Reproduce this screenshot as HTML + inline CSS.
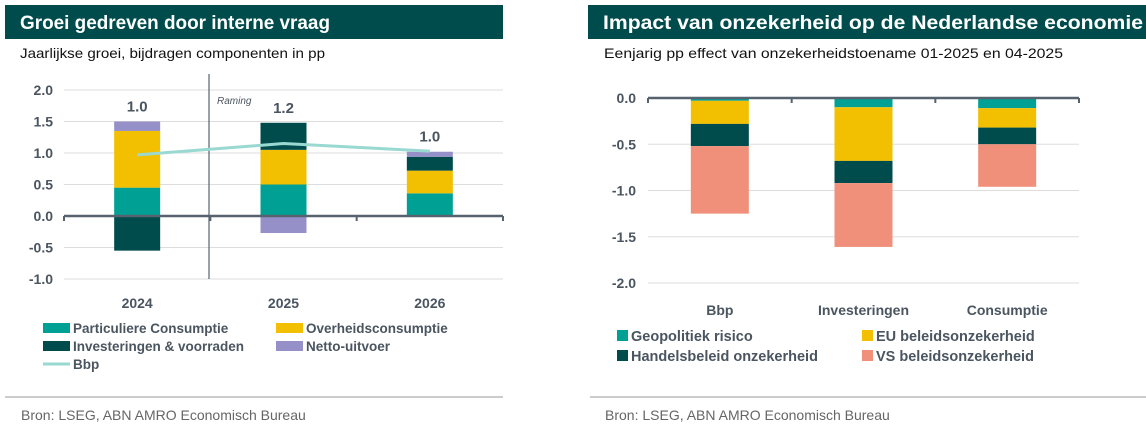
<!DOCTYPE html>
<html><head><meta charset="utf-8"><style>
body{margin:0;background:#fff;width:1146px;height:430px;overflow:hidden}
svg{display:block;font-family:"Liberation Sans",sans-serif}
</style></head><body>
<svg id="s" width="1146" height="430" viewBox="0 0 1146 430">
<rect x="5" y="5" width="498" height="34" fill="#004c4c"/>
<text x="20" y="29" font-size="19" font-weight="bold" fill="#fff" textLength="310" lengthAdjust="spacingAndGlyphs">Groei gedreven door interne vraag</text>
<text x="20" y="58" font-size="14" fill="#111" textLength="305" lengthAdjust="spacingAndGlyphs">Jaarlijkse groei, bijdragen componenten in pp</text>
<rect x="588" y="5" width="558" height="34" fill="#004c4c"/>
<text x="603" y="29" font-size="19" font-weight="bold" fill="#fff" textLength="540" lengthAdjust="spacingAndGlyphs">Impact van onzekerheid op de Nederlandse economie</text>
<text x="604" y="58" font-size="14" fill="#111" textLength="459" lengthAdjust="spacingAndGlyphs">Eenjarig pp effect van onzekerheidstoename 01-2025 en 04-2025</text>
<g id="L"></g><g id="R"></g>
<line x1="5" y1="397" x2="503" y2="397" stroke="#bbb" stroke-width="1.5"/>
<line x1="590" y1="397" x2="1146" y2="397" stroke="#bbb" stroke-width="1.5"/>
<text x="21" y="420" font-size="14" fill="#666">Bron: LSEG, ABN AMRO Economisch Bureau</text>
<text x="605" y="420" font-size="14" fill="#666">Bron: LSEG, ABN AMRO Economisch Bureau</text>
</svg>
<script>
const NS="http://www.w3.org/2000/svg";
// Left chart data
const leftYears=["2024","2025","2026"];
const privCons=[0.45,0.5,0.36];
const govCons=[0.9,0.55,0.36];
const invest=[-0.55,0.43,0.22];
const netExport=[0.15,-0.27,0.08];
const gdpLine=[0.97,1.15,1.03];
const gdpLabels=["1.0","1.2","1.0"];
const leftTicks=[2.0,1.5,1.0,0.5,0.0,-0.5,-1.0];
// Right chart data
const rightCats=["Bbp","Investeringen","Consumptie"];
const geoRisk=[-0.03,-0.1,-0.11];
const euPolicy=[-0.25,-0.58,-0.21];
const tradePolicy=[-0.24,-0.24,-0.18];
const usPolicy=[-0.73,-0.69,-0.46];
const rightTicks=[0.0,-0.5,-1.0,-1.5,-2.0];

function mk(parent,tag,attrs,text){const e=document.createElementNS(NS,tag);for(const k in attrs)e.setAttribute(k,attrs[k]);if(text!=null)e.textContent=text;parent.appendChild(e);return e;}
const C={pc:"#00a094",oc:"#f2c000",inv:"#004c4c",net:"#9590c8",gdp:"#99d9d2",us:"#f0907a"};

// LEFT
const L=document.getElementById("L");
const lx0=64,lx1=503,ly=v=>216-v*63;
const lcw=(lx1-lx0)/leftYears.length, lcx=i=>lx0+lcw*(i+0.5);
leftTicks.forEach(t=>{
  const g=mk(L,"line",{x1:lx0,x2:lx1,y1:ly(t),y2:ly(t),stroke:"#ddd","stroke-width":1});
  
  
  const tx=mk(L,"text",{x:53,y:ly(t)+5,"font-size":14,"font-weight":"bold",fill:"#4a5560","text-anchor":"end"},t.toFixed(1));
  
  
});
const series=[[privCons,C.pc,"particuliere-consumptie"],[govCons,C.oc,"overheidsconsumptie"],[invest,C.inv,"investeringen"],[netExport,C.net,"netto-uitvoer"]];
leftYears.forEach((yr,i)=>{
  let pos=0,neg=0;
  series.forEach(([arr,col,nm])=>{
    const v=arr[i];let a,b;
    if(v>=0){a=pos;b=pos+v;pos=b;}else{a=neg;b=neg+v;neg=b;}
    const r=mk(L,"rect",{x:lcx(i)-23,width:46,y:ly(Math.max(a,b)),height:Math.abs(ly(a)-ly(b)),fill:col});
    
    
  });
  const lab=mk(L,"text",{x:lcx(i),y:ly(pos)-10,"font-size":15,"font-weight":"bold",fill:"#4a5560","text-anchor":"middle"},gdpLabels[i]);
  
  
  const xl=mk(L,"text",{x:lcx(i),y:308,"font-size":14,"font-weight":"bold",fill:"#4a5560","text-anchor":"middle"},yr);
  
  
});
const ax=mk(L,"line",{x1:lx0,x2:lx1,y1:ly(0),y2:ly(0),stroke:"#56636e","stroke-width":2.5});


for(let i=0;i<=3;i++){const tk=mk(L,"line",{x1:lx0+lcw*i,x2:lx0+lcw*i,y1:ly(0),y2:ly(0)+5,stroke:"#56636e","stroke-width":2});
  
  }
const vl=mk(L,"line",{x1:209,x2:209,y1:74,y2:279,stroke:"#56636e","stroke-width":1.2});


const rm=mk(L,"text",{x:217,y:104,"font-size":10,"font-style":"italic",fill:"#4a5560"},"Raming");


const pl=mk(L,"polyline",{points:gdpLine.map((v,i)=>lcx(i)+","+ly(v)).join(" "),fill:"none",stroke:C.gdp,"stroke-width":3});


const lleg=[[43,328,C.pc,"Particuliere Consumptie"],[276,328,C.oc,"Overheidsconsumptie"],[43,346,C.inv,"Investeringen & voorraden"],[276,346,C.net,"Netto-uitvoer"]];
lleg.forEach(([x,y,c,t])=>{
  const g=mk(L,"g",{});
  
  
  mk(g,"rect",{x:x,y:y-5,width:27,height:10,fill:c});
  mk(g,"text",{x:x+30,y:y+5,"font-size":13.5,"font-weight":"bold",fill:"#4a5560"},t);
});
const gl=mk(L,"g",{});


mk(gl,"line",{x1:43,x2:70,y1:364,y2:364,stroke:C.gdp,"stroke-width":3});
mk(gl,"text",{x:73,y:369,"font-size":13.5,"font-weight":"bold",fill:"#4a5560"},"Bbp");

// RIGHT
const R=document.getElementById("R");
const rx0=648,rx1=1079,ry=v=>98-v*92.5;
const rcw=(rx1-rx0)/rightCats.length, rcx=i=>rx0+rcw*(i+0.5);
rightTicks.forEach(t=>{
  if(t!==0){const g=mk(R,"line",{x1:rx0,x2:rx1,y1:ry(t),y2:ry(t),stroke:"#ddd","stroke-width":1});
  
  }
  const tx=mk(R,"text",{x:636,y:ry(t)+5,"font-size":14,"font-weight":"bold",fill:"#4a5560","text-anchor":"end"},t.toFixed(1));
  
  
});
const rs=[[geoRisk,C.pc,"geopolitiek"],[euPolicy,C.oc,"eu-beleid"],[tradePolicy,C.inv,"handelsbeleid"],[usPolicy,C.us,"vs-beleid"]];
rightCats.forEach((cat,i)=>{
  let acc=0;
  rs.forEach(([arr,col,nm])=>{
    const a=acc,b=acc+arr[i];acc=b;
    const r=mk(R,"rect",{x:rcx(i)-29,width:58,y:ry(Math.max(a,b)),height:Math.abs(ry(a)-ry(b)),fill:col});
    
    
  });
  const xl=mk(R,"text",{x:rcx(i),y:315,"font-size":14,"font-weight":"bold",fill:"#4a5560","text-anchor":"middle"},cat);
  
  
});
const ax2=mk(R,"line",{x1:rx0,x2:rx1,y1:ry(0),y2:ry(0),stroke:"#56636e","stroke-width":2.5});


for(let i=0;i<=3;i++){const tk=mk(R,"line",{x1:rx0+rcw*i,x2:rx0+rcw*i,y1:ry(0),y2:ry(0)+5,stroke:"#56636e","stroke-width":2});
  
  }
const rleg=[[617,336,C.pc,"Geopolitiek risico"],[862,336,C.oc,"EU beleidsonzekerheid"],[617,356,C.inv,"Handelsbeleid onzekerheid"],[862,356,C.us,"VS beleidsonzekerheid"]];
rleg.forEach(([x,y,c,t])=>{
  const g=mk(R,"g",{});
  
  
  mk(g,"rect",{x:x,y:y-6,width:11,height:11,fill:c});
  mk(g,"text",{x:x+14,y:y+5,"font-size":14.5,"font-weight":"bold",fill:"#4a5560"},t);
});
</script>
</body></html>
